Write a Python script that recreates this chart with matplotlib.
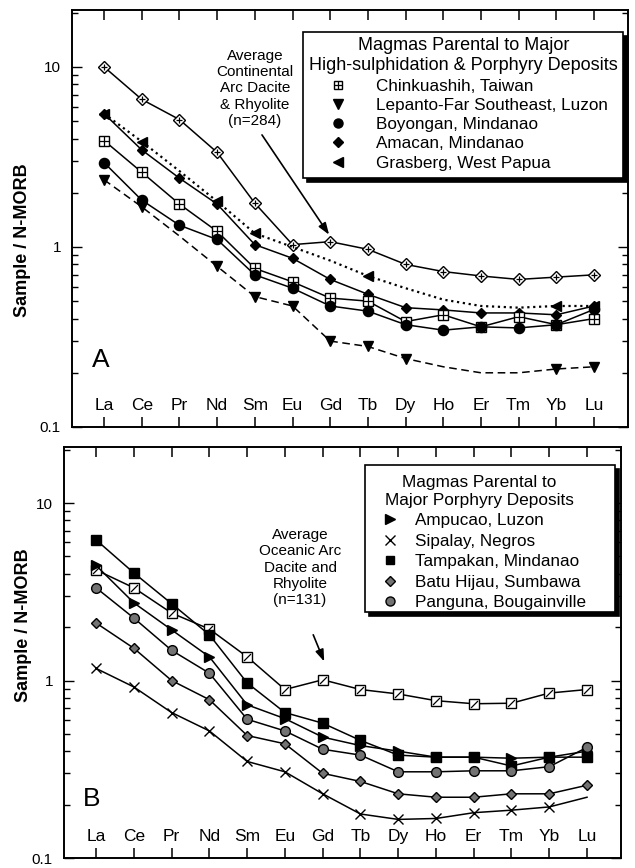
import matplotlib.pyplot as plt
import numpy as np
from matplotlib.lines import Line2D
from matplotlib.patches import Rectangle
from matplotlib.path import Path
from matplotlib.ticker import NullFormatter

plt.rcParams["font.family"] = ["Liberation Sans", "DejaVu Sans"]

ELEMENTS = ["La", "Ce", "Pr", "Nd", "Sm", "Eu", "Gd", "Tb", "Dy", "Ho", "Er", "Tm", "Yb", "Lu"]

# panel A - high-sulphidation & porphyry deposits
CONT_ARC_AVG = [10.0, 6.6, 5.1, 3.35, 1.75, 1.03, 1.07, 0.97, 0.80, 0.73, 0.69, 0.66, 0.68, 0.70]
CHINKUASHIH = [3.9, 2.6, 1.73, 1.22, 0.76, 0.64, 0.52, 0.50, 0.385, 0.42, 0.36, 0.41, 0.37, 0.40]
LEPANTO = [2.36, 1.67, 1.15, 0.78, 0.53, 0.47, 0.30, 0.28, 0.24, 0.216, 0.20, 0.20, 0.21, 0.216]
LEPANTO_MARKED = [0, 1, 3, 4, 5, 6, 7, 8, 12, 13]
BOYONGAN = [2.94, 1.82, 1.32, 1.10, 0.70, 0.59, 0.47, 0.44, 0.37, 0.345, 0.36, 0.355, 0.37, 0.45]
AMACAN = [5.5, 3.46, 2.41, 1.73, 1.03, 0.865, 0.66, 0.546, 0.46, 0.447, 0.43, 0.43, 0.42, 0.47]
GRASBERG = [5.5, 3.85, 2.64, 1.79, 1.19, 1.0, 0.84, 0.69, 0.59, 0.51, 0.47, 0.46, 0.47, 0.47]
GRASBERG_MARKED = [0, 1, 3, 4, 7, 12, 13]

# panel B - porphyry deposits
OCEAN_ARC_AVG = [4.2, 3.33, 2.40, 1.95, 1.36, 0.89, 1.01, 0.89, 0.84, 0.77, 0.74, 0.745, 0.85, 0.89]
AMPUCAO = [4.45, 2.74, 1.93, 1.36, 0.73, 0.61, 0.48, 0.43, 0.40, 0.37, 0.37, 0.365, 0.37, 0.40]
SIPALAY = [1.17, 0.92, 0.66, 0.52, 0.35, 0.306, 0.23, 0.177, 0.165, 0.167, 0.18, 0.186, 0.194, 0.22]
SIPALAY_MARKED = list(range(13))
TAMPAKAN = [6.2, 4.04, 2.71, 1.81, 0.97, 0.66, 0.575, 0.46, 0.38, 0.37, 0.37, 0.33, 0.37, 0.37]
BATU_HIJAU = [2.11, 1.52, 1.0, 0.78, 0.49, 0.44, 0.30, 0.27, 0.23, 0.22, 0.22, 0.23, 0.23, 0.257]
PANGUNA = [3.33, 2.25, 1.48, 1.10, 0.605, 0.52, 0.41, 0.38, 0.306, 0.306, 0.31, 0.31, 0.327, 0.42]

SLASH = Path([(-1, -1), (1, 1)], [Path.MOVETO, Path.LINETO])
GREY = "0.45"
FIG_W, FIG_H = 635, 868


def draw_series(ax, values, marker, ms, ls="-", mfc="black", lw=1.1, markevery=None, inner=None, inner_ms=None):
    x = np.arange(1, len(values) + 1)
    ax.plot(x, values, color="black", lw=lw, ls=ls, marker=marker, ms=ms,
            mfc=mfc, mec="black", mew=1.0, markevery=markevery)
    if inner is not None:
        ax.plot(x, values, ls="none", marker=inner, ms=inner_ms, mec="black",
                mew=0.9, markevery=markevery)


def setup_axes(ax, label_xy):
    x = np.arange(1, len(ELEMENTS) + 1)
    ax.set_yscale("log")
    ax.set_ylim(0.1, 20.7)
    ax.set_xlim(0.15, 14.9)
    ax.set_xticks(x, ELEMENTS)
    ax.set_yticks([0.1, 1, 10], ["0.1", "1", "10"])
    ax.yaxis.set_minor_formatter(NullFormatter())
    ax.tick_params(axis="x", which="major", direction="in", top=True, length=7,
                   width=1.1, pad=-21, labelsize=12.5)
    ax.tick_params(axis="y", which="both", direction="in", right=True, width=1.0,
                   labelsize=11, pad=8)
    ax.tick_params(axis="y", which="major", length=7)
    ax.tick_params(axis="y", which="minor", length=4.5)
    ax.set_ylabel("Sample / N-MORB", fontweight="bold", fontsize=13)
    ax.yaxis.set_label_coords(*label_xy)
    for s in ax.spines.values():
        s.set_linewidth(1.4)


def proxy(marker, ms, mfc="black"):
    return Line2D([], [], ls="none", marker=marker, ms=ms, mfc=mfc, mec="black", mew=1.0)


def legend_box(ax, left, top, right, bottom):
    # frame + offset black shadow, given in figure pixels
    def rect(x0, y0, x1, y1, fc, z):
        ax.add_patch(Rectangle((x0 / FIG_W, 1 - y1 / FIG_H), (x1 - x0) / FIG_W, (y1 - y0) / FIG_H,
                               transform=ax.figure.transFigure, facecolor=fc, edgecolor="black",
                               lw=1.2, zorder=z, clip_on=False))
    rect(left + 4, top + 4, right + 4, bottom + 4, "black", 4.6)
    rect(left, top, right, bottom, "white", 4.7)


def add_legend(ax, handles, labels, title, anchor, loc, align, title_size, hl, spacing):
    leg = ax.legend(handles, labels, loc=loc, bbox_to_anchor=anchor, title=title,
                    fontsize=12.3, title_fontsize=title_size, frameon=False,
                    borderaxespad=0, borderpad=0, handlelength=hl, handletextpad=1.17,
                    labelspacing=spacing, alignment=align)
    leg.get_title().set_multialignment("center")
    leg.get_title().set_linespacing(1.25)
    leg.set_zorder(5)
    return leg


fig = plt.figure(figsize=(6.35, 8.68), dpi=100)
ax_a = fig.add_axes([72 / FIG_W, 1 - 427 / FIG_H, 556 / FIG_W, 417 / FIG_H])
ax_b = fig.add_axes([64 / FIG_W, 1 - 858 / FIG_H, 557 / FIG_W, 411 / FIG_H])

# ---- panel A
setup_axes(ax_a, (-0.074, 0.448))
draw_series(ax_a, CONT_ARC_AVG, "D", 6.3, mfc="white", inner="+", inner_ms=5)
draw_series(ax_a, GRASBERG, "<", 7.5, ls=":", lw=1.6, markevery=GRASBERG_MARKED)
draw_series(ax_a, AMACAN, "D", 5.3)
draw_series(ax_a, CHINKUASHIH, "s", 7, mfc="white", inner="+", inner_ms=7)
draw_series(ax_a, BOYONGAN, "o", 7.3)
draw_series(ax_a, LEPANTO, "v", 7.5, ls=(0, (5, 3)), markevery=LEPANTO_MARKED)

ax_a.text(5.0, 7.6, "Average\nContinental\nArc Dacite\n& Rhyolite\n(n=284)",
          ha="center", va="center", fontsize=11, linespacing=1.2)
ax_a.annotate("", xy=(6.97, 1.17), xytext=(5.19, 4.19),
              arrowprops=dict(arrowstyle="-|>,head_length=0.7,head_width=0.25",
                              color="black", lw=1.2, shrinkA=0, shrinkB=0))
ax_a.text(0.036, 0.16, "A", transform=ax_a.transAxes, fontsize=19, va="center")

handles_a = [
    (proxy("s", 6, "white"), Line2D([], [], ls="none", marker="+", ms=6, mec="black", mew=0.9)),
    proxy("v", 6.5),
    proxy("o", 6.5),
    proxy("D", 4.7),
    proxy("<", 6.5),
]
labels_a = ["Chinkuashih, Taiwan", "Lepanto-Far Southeast, Luzon", "Boyongan, Mindanao",
            "Amacan, Mindanao", "Grasberg, West Papua"]
legend_box(ax_a, 303, 32, 623, 178)
add_legend(ax_a, handles_a, labels_a,
           "Magmas Parental to Major\nHigh-sulphidation & Porphyry Deposits",
           ((463.5 - 72) / 556, 1 - (37 - 10) / 417), "upper center", "center", 13, 2.2, 0.25)

# ---- panel B
setup_axes(ax_b, (-0.057, 0.567))
draw_series(ax_b, OCEAN_ARC_AVG, "s", 6.5, mfc="white", inner=SLASH, inner_ms=5)
draw_series(ax_b, TAMPAKAN, "s", 7)
draw_series(ax_b, AMPUCAO, ">", 7.5)
draw_series(ax_b, PANGUNA, "o", 7, mfc=GREY)
draw_series(ax_b, BATU_HIJAU, "D", 5.2, mfc=GREY)
draw_series(ax_b, SIPALAY, "x", 7.5, markevery=SIPALAY_MARKED)

ax_b.text(6.4, 4.33, "Average\nOceanic Arc\nDacite and\nRhyolite\n(n=131)",
          ha="center", va="center", fontsize=11, linespacing=1.2)
ax_b.annotate("", xy=(7.04, 1.28), xytext=(6.75, 1.81),
              arrowprops=dict(arrowstyle="-|>,head_length=0.7,head_width=0.25",
                              color="black", lw=1.2, shrinkA=0, shrinkB=0))
ax_b.text(0.034, 0.144, "B", transform=ax_b.transAxes, fontsize=19, va="center")

handles_b = [proxy(">", 6.5), proxy("x", 6.5), proxy("s", 6), proxy("D", 5, GREY), proxy("o", 6.5, GREY)]
labels_b = ["Ampucao, Luzon", "Sipalay, Negros", "Tampakan, Mindanao",
            "Batu Hijau, Sumbawa", "Panguna, Bougainville"]
legend_box(ax_b, 365, 465, 615, 612)
add_legend(ax_b, handles_b, labels_b, "Magmas Parental to\nMajor Porphyry Deposits",
           ((385 - 64) / 557, 1 - (475 - 447) / 411), "upper left", "left", 12.4, 0.6, 0.32)

fig.savefig("out.png", dpi=100)
